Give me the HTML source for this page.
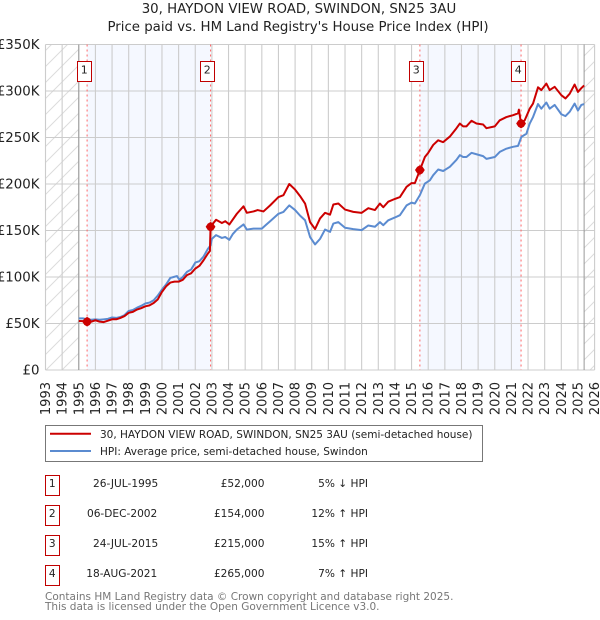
<!DOCTYPE html>
<html>
<head>
<meta charset="utf-8">
<title>30, HAYDON VIEW ROAD, SWINDON, SN25 3AU</title>
<style>
html,body{margin:0;padding:0;background:#fff;}
svg{display:block;font-family:"DejaVu Sans","Liberation Sans",sans-serif;}
</style>
</head>
<body>
<svg id="chart" xmlns="http://www.w3.org/2000/svg" width="600" height="620" viewBox="0 0 600 620">
  <defs>
    <pattern id="hatch" width="16" height="16" patternUnits="userSpaceOnUse">
      <path d="M-4 4L4 -4M0 16L16 0M12 20L20 12" stroke="#dcdcdc" stroke-width="1" fill="none"/>
    </pattern>
  </defs>
  <text x="299" y="13" font-size="13.33" text-anchor="middle" fill="#222">30, HAYDON VIEW ROAD, SWINDON, SN25 3AU</text>
  <text x="298" y="31" font-size="13.33" text-anchor="middle" fill="#222">Price paid vs. HM Land Registry's House Price Index (HPI)</text>
  <g id="plot"></g>

  <g>
    <rect x="45.5" y="425.5" width="437" height="36" fill="#fff" stroke="#777" stroke-width="1"/>
    <line x1="50" x2="91" y1="433.7" y2="433.7" stroke="#cc0000" stroke-width="2"/>
    <text x="100" y="438" font-size="10.5" fill="#222">30, HAYDON VIEW ROAD, SWINDON, SN25 3AU (semi-detached house)</text>
    <line x1="50" x2="91" y1="451" y2="451" stroke="#5b8bd0" stroke-width="2"/>
    <text x="100" y="455" font-size="10.5" fill="#222">HPI: Average price, semi-detached house, Swindon</text>
  </g>

  <g font-size="10.6" fill="#222">
    <rect x="45.5" y="475.5" width="14" height="20" fill="#fff" stroke="#c00000"/>
    <text x="52.3" y="487" text-anchor="middle">1</text>
    <text x="158.3" y="487" text-anchor="end">26-JUL-1995</text>
    <text x="264.5" y="487" text-anchor="end">£52,000</text>
    <text x="368" y="487" text-anchor="end">5% ↓ HPI</text>

    <rect x="45.5" y="505.5" width="14" height="20" fill="#fff" stroke="#c00000"/>
    <text x="52.3" y="517" text-anchor="middle">2</text>
    <text x="157.3" y="517" text-anchor="end">06-DEC-2002</text>
    <text x="264.5" y="517" text-anchor="end">£154,000</text>
    <text x="368" y="517" text-anchor="end">12% ↑ HPI</text>

    <rect x="45.5" y="535.5" width="14" height="20" fill="#fff" stroke="#c00000"/>
    <text x="52.3" y="547" text-anchor="middle">3</text>
    <text x="158.3" y="547" text-anchor="end">24-JUL-2015</text>
    <text x="264.5" y="547" text-anchor="end">£215,000</text>
    <text x="368" y="547" text-anchor="end">15% ↑ HPI</text>

    <rect x="45.5" y="565.5" width="14" height="20" fill="#fff" stroke="#c00000"/>
    <text x="52.3" y="577" text-anchor="middle">4</text>
    <text x="157.3" y="577" text-anchor="end">18-AUG-2021</text>
    <text x="264.5" y="577" text-anchor="end">£265,000</text>
    <text x="368" y="577" text-anchor="end">7% ↑ HPI</text>
  </g>

  <text x="45" y="600" font-size="10.5" fill="#777">Contains HM Land Registry data © Crown copyright and database right 2025.</text>
  <text x="45" y="610" font-size="10.5" fill="#777">This data is licensed under the Open Government Licence v3.0.</text>
</svg>
<script>
var yearTicks = [1993,1994,1995,1996,1997,1998,1999,2000,2001,2002,2003,2004,2005,2006,2007,2008,2009,2010,2011,2012,2013,2014,2015,2016,2017,2018,2019,2020,2021,2022,2023,2024,2025,2026];
var priceTicks = [0,50,100,150,200,250,300,350];
var priceTickLabels = ['£0','£50K','£100K','£150K','£200K','£250K','£300K','£350K'];
var dataStart = 1995;
var dataEnd = 2025.37;
var saleDates = [1995.5,2002.92,2015.5,2021.58];
var saleValues = [52,154,215,265];
var saleLabels = ['1','2','3','4'];
var hpiDates = [1995,1995.25,1995.5,1995.75,1996,1996.25,1996.5,1996.75,1997,1997.25,1997.5,1997.75,1998,1998.25,1998.5,1998.75,1999,1999.25,1999.5,1999.75,2000,2000.25,2000.5,2000.7,2000.9,2001.05,2001.25,2001.5,2001.75,2002,2002.25,2002.5,2002.75,2002.92,2003,2003.25,2003.6,2003.8,2004.05,2004.25,2004.5,2004.9,2005.1,2005.5,2006,2006.25,2006.5,2007,2007.3,2007.65,2008,2008.3,2008.6,2008.9,2009.2,2009.5,2009.8,2010.1,2010.3,2010.6,2011,2011.5,2012,2012.4,2012.8,2013.1,2013.3,2013.6,2014,2014.3,2014.7,2015,2015.2,2015.5,2015.8,2016.1,2016.3,2016.6,2016.9,2017.3,2017.7,2017.9,2018.1,2018.3,2018.6,2018.9,2019.3,2019.5,2020,2020.3,2020.7,2021.1,2021.4,2021.6,2021.9,2022.1,2022.3,2022.6,2022.8,2023.1,2023.3,2023.6,2024,2024.25,2024.5,2024.8,2025,2025.2,2025.37];
var hpiValues = [55.5,55.5,54.5,54,54.5,54,54.5,55,56.5,56,57,59,63.5,64.5,67,69,71.5,72.5,75,80,86.5,92,99,100,101,97,100,105.5,108,115.5,117,122,130,134,141,145,142,143,140,146,151,156.5,151,152,152,156,160,168,170,177,172,166,161,143,135,141,151,148.5,157.5,159,153,151.5,150.4,155.4,154,159,155.7,161,164,166.5,177,180,179,188,200.5,204,209.5,215.6,214,218.5,226,231,229,229,233.5,232,230,227,229,234.5,238,240,241,250.7,254,265,272,286,281,287.6,281,285,275,273,277.6,286.5,279,285,286];
var priceDates = [1995,1995.25,1995.5,1995.75,1996,1996.25,1996.5,1996.75,1997,1997.25,1997.5,1997.75,1998,1998.25,1998.5,1998.75,1999,1999.25,1999.5,1999.75,2000,2000.25,2000.5,2000.75,2001,2001.25,2001.5,2001.75,2002,2002.25,2002.5,2002.75,2002.88,2002.92,2003,2003.25,2003.6,2003.8,2004.05,2004.5,2004.9,2005.1,2005.5,2005.75,2006.1,2006.5,2007,2007.3,2007.65,2008,2008.3,2008.6,2008.9,2009.2,2009.5,2009.8,2010.1,2010.3,2010.6,2011,2011.5,2012,2012.4,2012.8,2013.1,2013.3,2013.6,2014,2014.3,2014.7,2015,2015.2,2015.5,2015.8,2016,2016.3,2016.6,2016.9,2017.3,2017.7,2017.9,2018.1,2018.3,2018.6,2018.9,2019.3,2019.5,2020,2020.3,2020.7,2021.1,2021.4,2021.45,2021.58,2021.8,2022.1,2022.3,2022.6,2022.8,2023.1,2023.3,2023.6,2024,2024.25,2024.5,2024.8,2025,2025.2,2025.37];
var priceValues = [52.7,52.5,52,52,53.5,52,51.5,53,54.5,54.5,56,58,61.5,62.5,65,66.5,68.5,69.5,72,76,84,90,94,95,95,97,102,104,109,112,118,125,128,154,156,161.5,158,160,156.5,168,176,169,170.5,172,170.5,177,186,188,200,194,187,179,159,151.5,163,169,167,178,179,172.5,170,169,174,172,179,175,181,184,186,197,201,201,215,229,233.5,242,247,245,251,260,265,262,262,268,265,264,260,262,268.5,272,274,276,280,265,268.5,281,286.5,304,301,308,301,304.5,295.5,292,297,307,299,303,306];

var svg = document.getElementById('plot');
var NS = 'http://www.w3.org/2000/svg';
var plotLeft = 45.5, plotRight = 594.6, plotTop = 44.5, plotBottom = 370;
function xScale(t){ return plotLeft + (t - yearTicks[0]) * (plotRight - plotLeft) / (yearTicks[yearTicks.length-1] - yearTicks[0]); }
function yScale(v){ return plotBottom - v * (plotBottom - plotTop) / priceTicks[priceTicks.length-1]; }
function make(tag, attrs){
  var el = document.createElementNS(NS, tag);
  for (var k in attrs) el.setAttribute(k, attrs[k]);
  svg.appendChild(el);
  return el;
}
function linePath(dates, values){
  var d = '';
  for (var i = 0; i < dates.length; i++) d += (i ? 'L' : 'M') + xScale(dates[i]).toFixed(2) + ' ' + yScale(values[i]).toFixed(2);
  return d;
}

var hatchLeft = make('rect', {x:plotLeft, y:plotTop, width:xScale(dataStart)-plotLeft, height:plotBottom-plotTop, fill:'url(#hatch)'});


var hatchRight = make('rect', {x:xScale(dataEnd), y:plotTop, width:plotRight-xScale(dataEnd), height:plotBottom-plotTop, fill:'url(#hatch)'});



for (var s = 0; s + 1 < saleDates.length; s += 2) {
  var band = make('rect', {x:xScale(saleDates[s]), y:plotTop, width:xScale(saleDates[s+1])-xScale(saleDates[s]), height:plotBottom-plotTop, fill:'#f5f8ff'});
  
  
}

yearTicks.forEach(function(y){
  var g = make('line', {x1:xScale(y), x2:xScale(y), y1:plotTop, y2:plotBottom, stroke:'#cccccc', 'stroke-width':1.1});
  
  
  var cx = xScale(y);
  var t = make('text', {x:0, y:0, 'font-size':13, fill:'#222', 'text-anchor':'end', transform:'translate(' + (cx + 4.5) + ',382) rotate(-90)'});
  t.textContent = y;
  
  
});
priceTicks.forEach(function(v, i){
  var g = make('line', {x1:plotLeft, x2:plotRight, y1:yScale(v), y2:yScale(v), stroke:'#cccccc', 'stroke-width':1.1});
  
  
  var t = make('text', {x:39.5, y:yScale(v)+4.5, 'font-size':13.33, fill:'#222', 'text-anchor':'end'});
  t.textContent = priceTickLabels[i];
  
  
});

[dataStart, dataEnd].forEach(function(t){
  var b = make('line', {x1:xScale(t), x2:xScale(t), y1:plotTop, y2:plotBottom, stroke:'#999999', 'stroke-width':1});
  
  
});

saleDates.forEach(function(t){
  var v = make('line', {x1:xScale(t), x2:xScale(t), y1:plotTop, y2:plotBottom, stroke:'#ff6666', 'stroke-width':1, 'stroke-dasharray':'2 3'});
  
  
});

var hpiLine = make('path', {d:linePath(hpiDates, hpiValues), fill:'none', stroke:'#5b8bd0', 'stroke-width':2, 'stroke-linejoin':'round'});


var priceLine = make('path', {d:linePath(priceDates, priceValues), fill:'none', stroke:'#cc0000', 'stroke-width':2, 'stroke-linejoin':'round'});



saleDates.forEach(function(t, i){
  var cx = xScale(t), cy = yScale(saleValues[i]);
  var m = make('path', {d:'M'+(cx-4.9)+' '+cy+'L'+(cx-2.8)+' '+(cy-3.2)+'L'+cx+' '+(cy-4.8)+'L'+(cx+2.8)+' '+(cy-3.2)+'L'+(cx+4.9)+' '+cy+'L'+(cx+2.8)+' '+(cy+3.2)+'L'+cx+' '+(cy+4.8)+'L'+(cx-2.8)+' '+(cy+3.2)+'Z', fill:'#cc0000'});
  
  
  var bx = Math.round(cx - 10.4) + 0.5;
  var r = make('rect', {x:bx, y:61.5, width:14, height:20, fill:'#fff', stroke:'#c00000', 'stroke-width':1});
  
  
  var l = make('text', {x:bx+6.8, y:73.5, 'font-size':11, fill:'#222', 'text-anchor':'middle'});
  l.textContent = saleLabels[i];
  
  
});
</script>
</body>
</html>
